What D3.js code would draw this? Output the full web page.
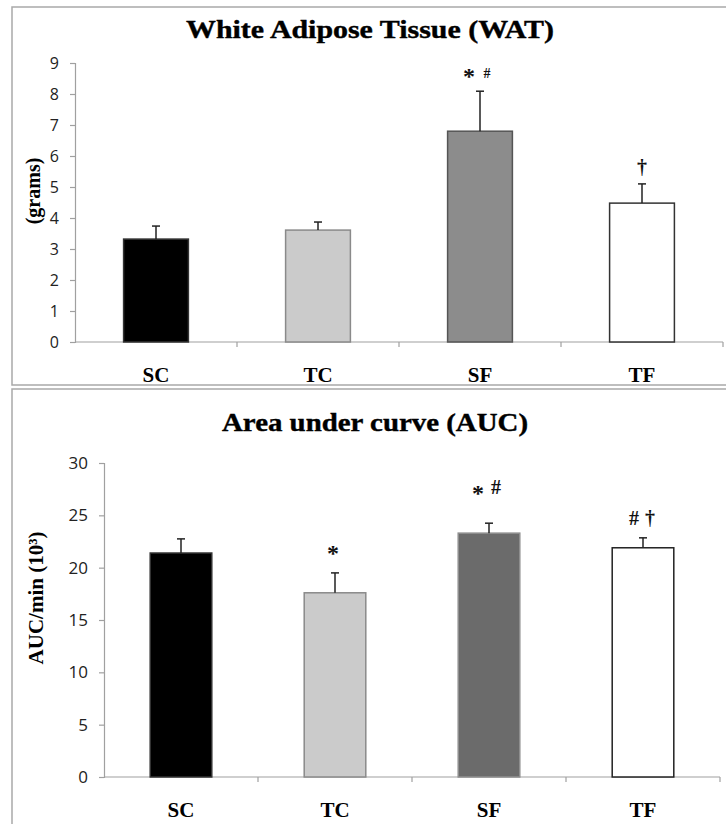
<!DOCTYPE html>
<html>
<head>
<meta charset="utf-8">
<script src="https://cdn.jsdelivr.net/npm/d3@7"></script>
<style>
  body { margin: 0; background: #fff; }
  svg { display: block; }
</style>
</head>
<body>
<div id="chart"></div>
<script>
// Groups shared by both panels.
const groups = ["SC", "TC", "SF", "TF"];

// White adipose tissue, grams (mean and upper SE).
const watMean = [3.32, 3.61, 6.8, 4.48];
const watErr = [0.42, 0.26, 1.29, 0.62];
const watTicks = [0, 1, 2, 3, 4, 5, 6, 7, 8, 9];
const watMarks = [[], [], [["*", 8.8], ["#", 8.8]], [["†", 5.65]]];

// Area under curve, AUC/min x 10^3.
const aucMean = [21.4, 17.6, 23.3, 21.9];
const aucErr = [1.35, 1.9, 0.95, 0.95];
const aucTicks = [0, 5, 10, 15, 20, 25, 30];
const aucMarks = [[], [["*", 22.0]], [["*", 27.7], ["#", 27.7]], [["#", 24.7], ["†", 24.7]]];

const width = 726, height = 824;
const serif = "'Liberation Serif', 'Times New Roman', serif";
const sans = "'Open Sans', 'Liberation Sans', sans-serif";

const svg = d3.select("#chart").append("svg")
    .attr("width", width)
    .attr("height", height);

function drawPanel(opt) {
  const g = svg.append("g");

  // panel frame
  g.append("rect")
      .attr("x", opt.box[0]).attr("y", opt.box[1])
      .attr("width", opt.box[2]).attr("height", opt.box[3])
      .attr("fill", "none")
      .attr("stroke", "#a9a9a9")
      .attr("stroke-width", 1.5);

  g.append("text")
      .attr("x", opt.titleX).attr("y", opt.titleY)
      .attr("text-anchor", "middle")
      .attr("textLength", opt.titleLen)
      .attr("lengthAdjust", "spacingAndGlyphs")
      .style("font", `bold 26px ${serif}`)
      .attr("fill", "#000")
      .attr("stroke", "#000").attr("stroke-width", 0.4)
      .text(opt.title);

  const xb = d3.scaleBand().domain(groups).range([opt.left, opt.right]);
  const y = d3.scaleLinear().domain([0, d3.max(opt.ticks)]).range([opt.bottom, opt.top]);

  // y axis
  const yAxis = g.append("g")
      .attr("transform", `translate(${opt.left},0)`)
      .call(d3.axisLeft(y).tickValues(opt.ticks).tickSize(5).tickPadding(opt.tickPad).tickFormat(d3.format("d")));
  yAxis.select(".domain").attr("stroke", "#a0a0a0").attr("stroke-width", 1.2);
  yAxis.selectAll(".tick line").attr("stroke", "#a0a0a0").attr("stroke-width", 1.2);
  yAxis.selectAll(".tick text")
      .style("font", `${opt.tickFont}px ${sans}`)
      .attr("fill", "#222");

  // x axis with ticks at band boundaries
  g.append("line")
      .attr("x1", opt.left).attr("x2", opt.right)
      .attr("y1", y(0)).attr("y2", y(0))
      .attr("stroke", "#a0a0a0").attr("stroke-width", 1.2);
  g.selectAll(".xtick")
      .data(groups)
      .enter().append("line")
      .attr("x1", d => xb(d) + xb.bandwidth())
      .attr("x2", d => xb(d) + xb.bandwidth())
      .attr("y1", y(0)).attr("y2", y(0) + 5)
      .attr("stroke", "#a0a0a0").attr("stroke-width", 1.2);

  g.selectAll(".xlabel")
      .data(groups)
      .enter().append("text")
      .attr("x", d => xb(d) + xb.bandwidth() / 2)
      .attr("y", opt.labelY)
      .attr("text-anchor", "middle")
      .style("font", `bold 21px ${serif}`)
      .attr("fill", "#000")
      .text(d => d);

  // y label
  g.append("text")
      .attr("transform", `translate(${opt.ylabX},${opt.ylabY}) rotate(-90)`)
      .attr("text-anchor", "middle")
      .style("font", `bold ${opt.ylabFont}px ${serif}`)
      .attr("fill", "#000")
      .text(opt.ylab);

  // bars
  const barW = 0.4 * xb.bandwidth();
  g.selectAll(".bar")
      .data(groups)
      .enter().append("rect")
      .attr("x", d => xb(d) + (xb.bandwidth() - barW) / 2)
      .attr("width", barW)
      .attr("y", (d, i) => y(opt.mean[i]))
      .attr("height", (d, i) => y(0) - y(opt.mean[i]))
      .attr("fill", (d, i) => opt.fills[i])
      .attr("stroke", (d, i) => opt.strokes[i])
      .attr("stroke-width", 1.5);

  // upper error bars
  groups.forEach((d, i) => {
    const cx = xb(d) + xb.bandwidth() / 2;
    const top = y(opt.mean[i] + opt.err[i]);
    g.append("line")
        .attr("x1", cx).attr("x2", cx)
        .attr("y1", y(opt.mean[i])).attr("y2", top)
        .attr("stroke", "#222").attr("stroke-width", 1.5);
    g.append("line")
        .attr("x1", cx - 4).attr("x2", cx + 4)
        .attr("y1", top).attr("y2", top)
        .attr("stroke", "#222").attr("stroke-width", 1.5);

    // significance marks
    const marks = opt.marks[i];
    marks.forEach((m, j) => {
      const off = marks.length === 1 ? 0 : (j === 0 ? -9 : 7);
      const small = m[0] === "#" && opt.smallHash;
      const size = m[0] === "*" ? 24 : (small ? 14 : 20);
      g.append("text")
          .attr("x", cx + off + (m[0] === "*" ? -2 : 0))
          .attr("y", y(m[1]))
          .attr("dy", m[0] === "*" ? "0.6em" : (small ? "0.6em" : "0.35em"))
          .attr("text-anchor", "middle")
          .style("font", `bold ${size}px ${serif}`)
          .attr("fill", "#111")
          .text(m[0]);
    });
  });
}

drawPanel({
  box: [12, 7, 730, 378],
  title: "White Adipose Tissue (WAT)", titleX: 370, titleY: 38, titleLen: 368,
  left: 75, right: 723, top: 63, bottom: 342,
  ticks: watTicks, tickFont: 16, tickPad: 11,
  mean: watMean, err: watErr, marks: watMarks, smallHash: true,
  labelY: 382,
  ylab: "(grams)", ylabX: 40, ylabY: 191, ylabFont: 20,
  fills: ["#000000", "#cbcbcb", "#8c8c8c", "#ffffff"],
  strokes: ["#333333", "#8a8a8a", "#555555", "#333333"]
});

drawPanel({
  box: [12, 389, 730, 445],
  title: "Area under curve (AUC)", titleX: 375, titleY: 431, titleLen: 306,
  left: 104, right: 720, top: 463, bottom: 777,
  ticks: aucTicks, tickFont: 17, tickPad: 11,
  mean: aucMean, err: aucErr, marks: aucMarks, smallHash: false,
  labelY: 817,
  ylab: "AUC/min (10³)", ylabX: 43, ylabY: 598, ylabFont: 21,
  fills: ["#000000", "#cbcbcb", "#6b6b6b", "#ffffff"],
  strokes: ["#333333", "#8a8a8a", "#8f8f8f", "#222222"]
});
</script>
</body>
</html>
